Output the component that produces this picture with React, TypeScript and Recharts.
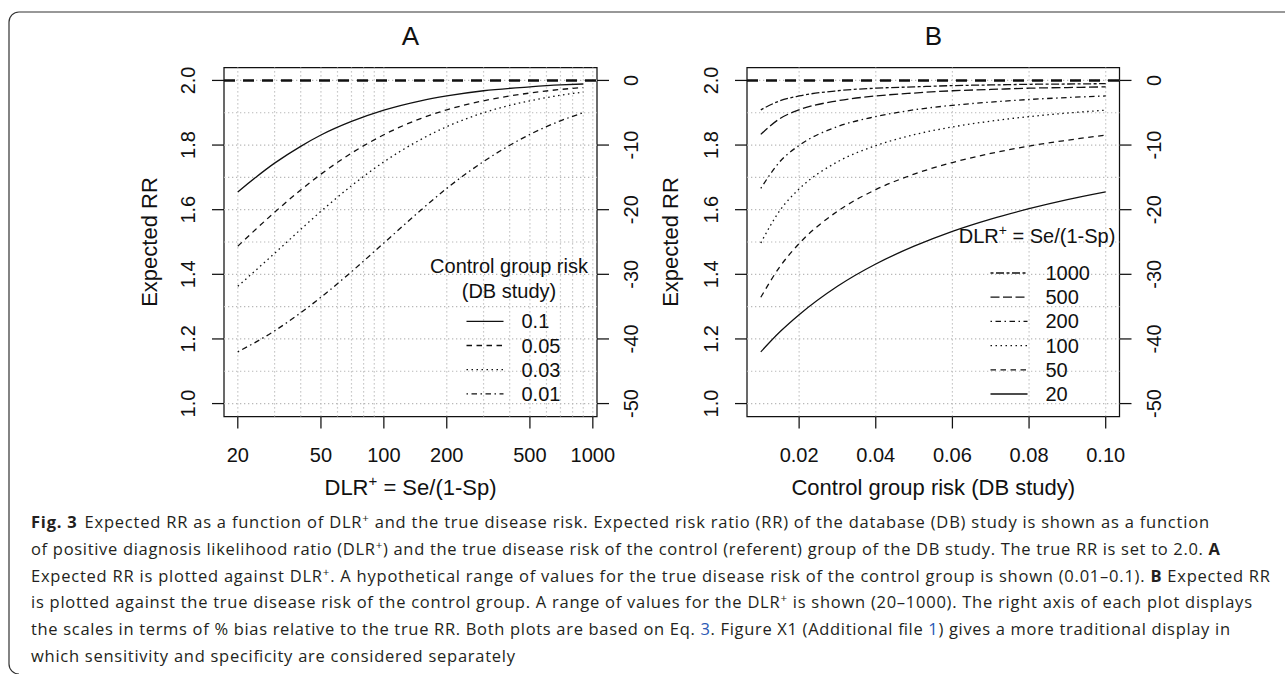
import { LineChart, Line, XAxis, YAxis, ReferenceLine, ReferenceArea, Legend } from "recharts";

// Panel A: expected RR against DLR+ for four control group risks
const dlrPoints = [20, 30, 40, 50, 70, 100, 150, 200, 300, 500, 700, 900];
const rrRisk10 = [1.655, 1.744, 1.796, 1.831, 1.873, 1.908, 1.937, 1.952, 1.968, 1.98, 1.986, 1.989];
const rrRisk05 = [1.487, 1.592, 1.661, 1.71, 1.775, 1.832, 1.882, 1.909, 1.937, 1.961, 1.972, 1.978];
const rrRisk03 = [1.363, 1.465, 1.539, 1.595, 1.674, 1.748, 1.817, 1.857, 1.9, 1.937, 1.954, 1.964];
const rrRisk01 = [1.16, 1.225, 1.281, 1.329, 1.408, 1.497, 1.598, 1.666, 1.749, 1.833, 1.875, 1.9];
const riskLabels = ["0.1", "0.05", "0.03", "0.01"];

// Panel B: expected RR against control group risk for six DLR+ values
const riskPoints = [0.01, 0.015, 0.02, 0.03, 0.04, 0.05, 0.06, 0.07, 0.08, 0.09, 0.1];
const rrDlr20 = [1.16, 1.222, 1.275, 1.363, 1.432, 1.487, 1.533, 1.571, 1.603, 1.631, 1.655];
const rrDlr50 = [1.329, 1.424, 1.495, 1.595, 1.662, 1.71, 1.746, 1.774, 1.797, 1.815, 1.831];
const rrDlr100 = [1.497, 1.598, 1.664, 1.748, 1.798, 1.832, 1.856, 1.874, 1.888, 1.899, 1.908];
const rrDlr200 = [1.666, 1.749, 1.799, 1.857, 1.888, 1.909, 1.923, 1.933, 1.941, 1.947, 1.952];
const rrDlr500 = [1.833, 1.882, 1.909, 1.937, 1.952, 1.961, 1.968, 1.972, 1.976, 1.978, 1.98];
const rrDlr1000 = [1.909, 1.937, 1.952, 1.968, 1.976, 1.98, 1.984, 1.986, 1.988, 1.989, 1.99];
const dlrLabels = ["1000", "500", "200", "100", "50", "20"];

// axes
const rrTicks = [1.0, 1.2, 1.4, 1.6, 1.8, 2.0];
const biasTicks = [0, -10, -20, -30, -40, -50];
const dlrTicks = [20, 50, 100, 200, 500, 1000];
const riskTicks = [0.02, 0.04, 0.06, 0.08, 0.1];
const rrGrid = [1.0, 1.1, 1.2, 1.3, 1.4, 1.5, 1.6, 1.7, 1.8, 1.9, 2.0];
const dlrGrid = [20, 30, 40, 50, 60, 70, 80, 90, 100, 200, 300, 400, 500, 600, 700, 800, 900, 1000];
const riskGrid = [0.02, 0.04, 0.06, 0.08, 0.1];
const trueRR = 2.0;
const rrDomain = [0.96, 2.04];
const biasDomain = [-52, 2];
const dlrDomain = [17.18, 1047];
const riskDomain = [0.0064, 0.1036];

const FONT = "'Liberation Sans', Arial, Helvetica, sans-serif";
const CAPTION_FONT = "'Open Sans', 'Noto Sans', sans-serif";
const INK = "#111";
const GRID = "#b9b9b9";
const LINK = "#2b59b5";

const LTY = {
  solid: undefined,
  dashed: "5.5 4.5",
  dotted: "1.5 3.5",
  dotdash: "1.5 3.5 5.5 3.5",
  longdash: "9 3.5",
  twodash: "3 2.5 8 2.5",
};
const stylesA = [LTY.solid, LTY.dashed, LTY.dotted, LTY.dotdash];
const stylesB = [LTY.twodash, LTY.longdash, LTY.dotdash, LTY.dotted, LTY.dashed, LTY.solid];

const tickLineStyle = { stroke: INK, strokeWidth: 1.25 };

function LeftTick(props: any) {
  const { x, y, payload } = props;
  return (
    <text x={x} y={y} transform={`rotate(-90 ${x} ${y})`} textAnchor="middle" fontSize={20} fontFamily={FONT} fill={INK}>
      {Number(payload.value).toFixed(1)}
    </text>
  );
}

function RightTick(props: any) {
  const { x, y, payload } = props;
  return (
    <text x={x} y={y} transform={`rotate(-90 ${x} ${y})`} textAnchor="middle" fontSize={20} fontFamily={FONT} fill={INK}>
      {String(payload.value)}
    </text>
  );
}

function BottomTick(props: any) {
  const { x, y, payload, digits } = props;
  return (
    <text x={x} y={y} textAnchor="middle" fontSize={20} fontFamily={FONT} fill={INK}>
      {digits ? Number(payload.value).toFixed(digits) : String(payload.value)}
    </text>
  );
}

function LegendBox({ title, labels, dashes, width, height, titleX, titleYs, itemY0, sampleX }: any) {
  return (
    <svg width={width} height={height} style={{ overflow: "visible" }}>
      {title.map((t: any, i: number) => (
        <text key={i} x={titleX} y={titleYs[i]} textAnchor="middle" fontSize={20} fontFamily={FONT} fill={INK}>
          {t}
        </text>
      ))}
      {labels.map((lab: string, i: number) => {
        const base = itemY0 + i * 24.2;
        return (
          <g key={lab}>
            <line x1={sampleX} x2={sampleX + 37} y1={base - 7} y2={base - 7} stroke={INK} strokeWidth={1.3} strokeDasharray={dashes[i]} />
            <text x={sampleX + 55} y={base} fontSize={20} fontFamily={FONT} fill={INK}>
              {lab}
            </text>
          </g>
        );
      })}
    </svg>
  );
}

function Box({ xDomain }: { xDomain: number[] }) {
  return (
    <ReferenceArea
      yAxisId="rr"
      x1={xDomain[0]}
      x2={xDomain[1]}
      y1={rrDomain[0]}
      y2={rrDomain[1]}
      fill="none"
      stroke={INK}
      strokeWidth={1.25}
      ifOverflow="visible"
    />
  );
}

function PanelA() {
  const data = dlrPoints.map((dlr, i) => ({
    dlr,
    r10: rrRisk10[i],
    r05: rrRisk05[i],
    r03: rrRisk03[i],
    r01: rrRisk01[i],
  }));
  const keys = ["r10", "r05", "r03", "r01"];
  return (
    <LineChart width={680} height={520} data={data} margin={{ top: 67.5, left: 164, right: 23, bottom: 43.5 }}>
      <XAxis
        dataKey="dlr"
        type="number"
        scale="log"
        domain={dlrDomain}
        allowDataOverflow
        ticks={dlrTicks}
        interval={0}
        height={60}
        tickSize={12}
        tickMargin={33}
        axisLine={false}
        tickLine={tickLineStyle}
        tick={(p: any) => <BottomTick {...p} />}
      />
      <YAxis yAxisId="rr" type="number" domain={rrDomain} allowDataOverflow ticks={rrTicks} interval={0} width={60}
        tickSize={12} tickMargin={17} axisLine={false} tickLine={tickLineStyle} tick={(p: any) => <LeftTick {...p} />} />
      <YAxis yAxisId="bias" orientation="right" type="number" domain={biasDomain} allowDataOverflow ticks={biasTicks} interval={0}
        width={60} tickSize={12} tickMargin={29.5} axisLine={false} tickLine={tickLineStyle} tick={(p: any) => <RightTick {...p} />} />
      {rrGrid.map((v) => (
        <ReferenceLine key={"h" + v} yAxisId="rr" y={v} stroke={GRID} strokeWidth={1.2} strokeDasharray="1.3 2.7" />
      ))}
      {dlrGrid.map((v) => (
        <ReferenceLine key={"v" + v} yAxisId="rr" x={v} stroke={GRID} strokeWidth={1.2} strokeDasharray="1.3 2.7" />
      ))}
      <Box xDomain={dlrDomain} />
      {keys.map((k, i) => (
        <Line key={k} yAxisId="rr" type="monotone" dataKey={k} stroke={INK} strokeWidth={1.3} strokeDasharray={stylesA[i]}
          dot={false} activeDot={false} isAnimationActive={false} />
      ))}
      <ReferenceLine yAxisId="rr" y={trueRR} stroke={INK} strokeWidth={2.6} strokeDasharray="11 8" />
      <ReferenceLine yAxisId="bias" y={0} stroke="none" />
      <Legend
        layout="horizontal"
        verticalAlign="middle"
        align="center"
        wrapperStyle={{ left: 440, top: 240, width: 180, height: 170 }}
        content={() => (
          <LegendBox title={["Control group risk", "(DB study)"]} labels={riskLabels} dashes={stylesA} width={180} height={170}
            titleX={69} titleYs={[32.5, 57.5]} itemY0={88.3} sampleX={26.5} />
        )}
      />
    </LineChart>
  );
}

function PanelB() {
  const data = riskPoints.map((risk, i) => ({
    risk,
    d1000: rrDlr1000[i],
    d500: rrDlr500[i],
    d200: rrDlr200[i],
    d100: rrDlr100[i],
    d50: rrDlr50[i],
    d20: rrDlr20[i],
  }));
  const keys = ["d1000", "d500", "d200", "d100", "d50", "d20"];
  return (
    <LineChart width={645} height={520} data={data} margin={{ top: 67.5, left: 47, right: 105.5, bottom: 43.5 }}>
      <XAxis
        dataKey="risk"
        type="number"
        domain={riskDomain}
        allowDataOverflow
        ticks={riskTicks}
        interval={0}
        height={60}
        tickSize={12}
        tickMargin={33}
        axisLine={false}
        tickLine={tickLineStyle}
        tick={(p: any) => <BottomTick {...p} digits={2} />}
      />
      <YAxis yAxisId="rr" type="number" domain={rrDomain} allowDataOverflow ticks={rrTicks} interval={0} width={60}
        tickSize={12} tickMargin={17} axisLine={false} tickLine={tickLineStyle} tick={(p: any) => <LeftTick {...p} />} />
      <YAxis yAxisId="bias" orientation="right" type="number" domain={biasDomain} allowDataOverflow ticks={biasTicks} interval={0}
        width={60} tickSize={12} tickMargin={29.5} axisLine={false} tickLine={tickLineStyle} tick={(p: any) => <RightTick {...p} />} />
      {rrGrid.map((v) => (
        <ReferenceLine key={"h" + v} yAxisId="rr" y={v} stroke={GRID} strokeWidth={1.2} strokeDasharray="1.3 2.7" />
      ))}
      {riskGrid.map((v) => (
        <ReferenceLine key={"v" + v} yAxisId="rr" x={v} stroke={GRID} strokeWidth={1.2} strokeDasharray="1.3 2.7" />
      ))}
      <Box xDomain={riskDomain} />
      {keys.map((k, i) => (
        <Line key={k} yAxisId="rr" type="monotone" dataKey={k} stroke={INK} strokeWidth={1.3} strokeDasharray={stylesB[i]}
          dot={false} activeDot={false} isAnimationActive={false} />
      ))}
      <ReferenceLine yAxisId="rr" y={trueRR} stroke={INK} strokeWidth={2.6} strokeDasharray="11 8" />
      <ReferenceLine yAxisId="bias" y={0} stroke="none" />
      <Legend
        layout="horizontal"
        verticalAlign="middle"
        align="center"
        wrapperStyle={{ left: 310, top: 220, width: 180, height: 190 }}
        content={() => (
          <LegendBox title={[<>DLR<tspan dy={-8} fontSize={14}>+</tspan><tspan dy={8}> = Se/(1-Sp)</tspan></>]} labels={dlrLabels}
            dashes={stylesB} width={180} height={190} titleX={87} titleYs={[22.5]} itemY0={60} sampleX={40.5} />
        )}
      />
    </LineChart>
  );
}

type Seg = [string, string];
const captionLines: Seg[][] = [
  [["Fig. 3", "b"], ["Expected RR as a function of DLR", "gap"], ["+", "s"], [" and the true disease risk. Expected risk ratio (RR) of the database (DB) study is shown as a function", ""]],
  [["of positive diagnosis likelihood ratio (DLR", ""], ["+", "s"], [") and the true disease risk of the control (referent) group of the DB study. The true RR is set to 2.0. ", ""], ["A", "b"]],
  [["Expected RR is plotted against DLR", ""], ["+", "s"], [". A hypothetical range of values for the true disease risk of the control group is shown (0.01–0.1). ", ""], ["B", "b"], [" Expected RR", ""]],
  [["is plotted against the true disease risk of the control group. A range of values for the DLR", ""], ["+", "s"], [" is shown (20–1000). The right axis of each plot displays", ""]],
  [["the scales in terms of % bias relative to the true RR. Both plots are based on Eq. ", ""], ["3", "l"], [". Figure X1 (Additional file ", ""], ["1", "l"], [") gives a more traditional display in", ""]],
  [["which sensitivity and specificity are considered separately", ""]],
];
// measured right ends of the caption lines
const captionEnds = [1209, 1220, 1270, 1252, 1230, 515];

function Overlay() {
  const axisTitle = { fontSize: 22, fontFamily: FONT, fill: INK, textAnchor: "middle" as const };
  return (
    <svg width={1285} height={674} style={{ position: "absolute", left: 0, top: 0, pointerEvents: "none" }}>
      <path d="M1290 12 H19 A10 10 0 0 0 9 22 V664 A10 10 0 0 0 19 674" fill="none" stroke="#333" strokeWidth={1.2} />
      <text x={410.5} y={45} fontSize={26} fontFamily={FONT} fill={INK} textAnchor="middle">A</text>
      <text x={933.3} y={45} fontSize={26} fontFamily={FONT} fill={INK} textAnchor="middle">B</text>
      <text x={157} y={242} transform="rotate(-90 157 242)" {...axisTitle}>Expected RR</text>
      <text x={678} y={242} transform="rotate(-90 678 242)" {...axisTitle}>Expected RR</text>
      <text x={410.5} y={495} {...axisTitle}>
        DLR<tspan dy={-9} fontSize={15}>+</tspan>
        <tspan dy={9}> = Se/(1-Sp)</tspan>
      </text>
      <text x={933.3} y={495} {...axisTitle}>Control group risk (DB study)</text>
      {captionLines.map((line, i) => (
        <text
          key={i}
          x={31}
          y={528.3 + i * 26.7}
          fontSize={16.5}
          fontFamily={CAPTION_FONT}
          fill="#231f20"
          textLength={captionEnds[i] - 31}
          lengthAdjust="spacing"
        >
          {line.map(([t, k], j) => {
            const prevSup = j > 0 && line[j - 1][1] === "s";
            return (
              <tspan
                key={j}
                dx={k === "gap" ? 7 : undefined}
                dy={k === "s" ? -6 : prevSup ? 6 : undefined}
                fontSize={k === "s" ? 11.5 : undefined}
                fontWeight={k === "b" ? 700 : undefined}
                fill={k === "l" ? LINK : undefined}
              >
                {t}
              </tspan>
            );
          })}
        </text>
      ))}
    </svg>
  );
}

export default function App() {
  return (
    <div style={{ position: "absolute", left: 0, top: 0, width: 1285, height: 674, background: "#fff", overflow: "hidden" }}>
      <div style={{ position: "absolute", left: 0, top: 0 }}>
        <PanelA />
      </div>
      <div style={{ position: "absolute", left: 640, top: 0 }}>
        <PanelB />
      </div>
      <Overlay />
    </div>
  );
}
